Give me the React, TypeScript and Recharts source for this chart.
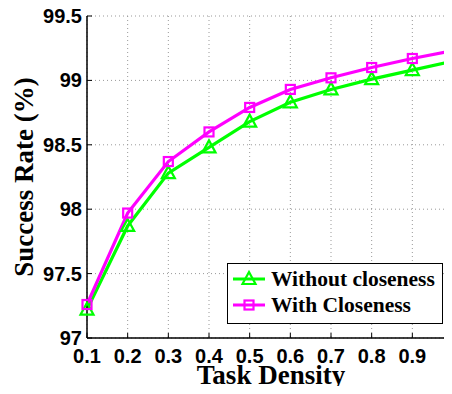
import { LineChart, Line, XAxis, YAxis, CartesianGrid, Legend } from 'recharts';

const density = [0.1, 0.2, 0.3, 0.4, 0.5, 0.6, 0.7, 0.8, 0.9, 1.0];
const withoutCloseness = [97.22, 97.87, 98.28, 98.48, 98.68, 98.83, 98.93, 99.01, 99.08, 99.15];
const withCloseness = [97.26, 97.97, 98.37, 98.6, 98.79, 98.93, 99.02, 99.1, 99.17, 99.23];
const xTicks = [0.1, 0.2, 0.3, 0.4, 0.5, 0.6, 0.7, 0.8, 0.9, 1];
const yTicks = [97, 97.5, 98, 98.5, 99, 99.5];
const legendOrder = ['without', 'with'];

const data = density.map((d, i) => ({
  density: d,
  without: withoutCloseness[i],
  with: withCloseness[i],
}));

const GREEN = '#00ff00';
const MAGENTA = '#ff00ff';
const tickFont = { fontFamily: '"Liberation Sans", Arial, sans-serif', fontWeight: 'bold', fontSize: 20 };
const titleFont = '"Liberation Serif", "Times New Roman", serif';

function Triangle({ cx, cy, color }: any) {
  if (cx == null || cy == null) return null;
  return (
    <polygon
      points={`${cx},${cy - 7} ${cx - 6.5},${cy + 5} ${cx + 6.5},${cy + 5}`}
      fill="none"
      stroke={color}
      strokeWidth={2.2}
    />
  );
}

function Square({ cx, cy, color }: any) {
  if (cx == null || cy == null) return null;
  return <rect x={cx - 4.5} y={cy - 4.5} width={9} height={9} fill="none" stroke={color} strokeWidth={2.2} />;
}

function BottomTick({ x, y, payload }: any) {
  return (
    <g>
      <line x1={x} y1={y} x2={x} y2={y - 5} stroke="#000" strokeWidth={1} />
      <text x={x} y={y + 25} textAnchor="middle" fill="#000" {...tickFont}>
        {payload.value}
      </text>
    </g>
  );
}

function TopTick({ x, y }: any) {
  return <line x1={x} y1={y} x2={x} y2={y + 5} stroke="#000" strokeWidth={1} />;
}

function LeftTick({ x, y, payload }: any) {
  return (
    <g>
      <line x1={x} y1={y} x2={x + 5} y2={y} stroke="#000" strokeWidth={1} />
      <text x={x - 5} y={y} dy="0.35em" textAnchor="end" fill="#000" {...tickFont}>
        {payload.value}
      </text>
    </g>
  );
}

function RightTick({ x, y }: any) {
  return <line x1={x} y1={y} x2={x - 5} y2={y} stroke="#000" strokeWidth={1} />;
}

function LegendBox({ payload }: any) {
  const items = [...(payload || [])].sort(
    (a: any, b: any) => legendOrder.indexOf(a.dataKey) - legendOrder.indexOf(b.dataKey)
  );
  return (
    <div
      style={{
        border: '1px solid #000',
        background: '#fff',
        width: 214,
        height: 57,
        boxSizing: 'content-box',
        paddingTop: 2,
      }}
    >
      {items.map((item: any) => (
        <div key={item.value} style={{ display: 'flex', alignItems: 'center', height: 26 }}>
          <svg width={40} height={20} style={{ marginLeft: 3 }}>
            <line x1={2} y1={10} x2={34} y2={10} stroke={item.color} strokeWidth={3} />
            {item.dataKey === 'without' ? (
              <Triangle cx={18} cy={10} color={item.color} />
            ) : (
              <Square cx={18} cy={10} color={item.color} />
            )}
          </svg>
          <span style={{ fontFamily: titleFont, fontWeight: 'bold', fontSize: 21.5, color: '#000' }}>
            {item.value}
          </span>
        </div>
      ))}
    </div>
  );
}

export default function App() {
  return (
    <div style={{ position: 'relative', width: 452, height: 394, overflow: 'hidden', margin: -8, background: '#fff' }}>
      <LineChart width={460} height={394} data={data} margin={{ top: 16, right: 7, left: 27, bottom: 26 }}>
        <CartesianGrid stroke="#999" strokeDasharray="1 3" strokeWidth={1} />
        <XAxis
          dataKey="density"
          type="number"
          domain={[0.1, 1]}
          ticks={xTicks}
          height={30}
          tickSize={0}
          tickMargin={0}
          tickLine={false}
          axisLine={{ stroke: '#000', strokeWidth: 1.5 }}
          tick={<BottomTick />}
          interval={0}
        />
        <XAxis
          xAxisId="top"
          orientation="top"
          dataKey="density"
          type="number"
          domain={[0.1, 1]}
          ticks={xTicks}
          height={0}
          tickSize={0}
          tickMargin={0}
          tickLine={false}
          axisLine={{ stroke: '#000', strokeWidth: 1.5 }}
          tick={<TopTick />}
          interval={0}
        />
        <YAxis
          type="number"
          domain={[97, 99.5]}
          ticks={yTicks}
          width={60}
          tickSize={0}
          tickMargin={0}
          tickLine={false}
          axisLine={{ stroke: '#000', strokeWidth: 1.5 }}
          tick={<LeftTick />}
          interval={0}
        />
        <YAxis
          yAxisId="right"
          orientation="right"
          type="number"
          domain={[97, 99.5]}
          ticks={yTicks}
          width={0}
          tickSize={0}
          tickMargin={0}
          tickLine={false}
          axisLine={{ stroke: '#000', strokeWidth: 1.5 }}
          tick={<RightTick />}
          interval={0}
        />
        <Line
          dataKey="without"
          name="Without closeness"
          stroke={GREEN}
          strokeWidth={3.2}
          dot={(p: any) => <Triangle key={`t-${p.index}`} cx={p.cx} cy={p.cy} color={GREEN} />}
          isAnimationActive={false}
        />
        <Line
          dataKey="with"
          name="With Closeness"
          stroke={MAGENTA}
          strokeWidth={3.2}
          dot={(p: any) => <Square key={`s-${p.index}`} cx={p.cx} cy={p.cy} color={MAGENTA} />}
          isAnimationActive={false}
        />
        <Legend
          layout="vertical"
          align="center"
          verticalAlign="middle"
          content={<LegendBox />}
          wrapperStyle={{ left: 227, top: 263, width: 216, height: 60 }}
        />
      </LineChart>
      <div
        style={{
          position: 'absolute',
          left: 271,
          top: 375,
          transform: 'translate(-50%, -50%)',
          fontFamily: titleFont,
          fontWeight: 'bold',
          fontSize: 27,
          whiteSpace: 'nowrap',
          lineHeight: 1,
        }}
      >
        Task Density
      </div>
      <div
        style={{
          position: 'absolute',
          left: 24,
          top: 177,
          transform: 'translate(-50%, -50%) rotate(-90deg)',
          fontFamily: titleFont,
          fontWeight: 'bold',
          fontSize: 27,
          whiteSpace: 'nowrap',
          lineHeight: 1,
        }}
      >
        Success Rate (%)
      </div>
    </div>
  );
}
